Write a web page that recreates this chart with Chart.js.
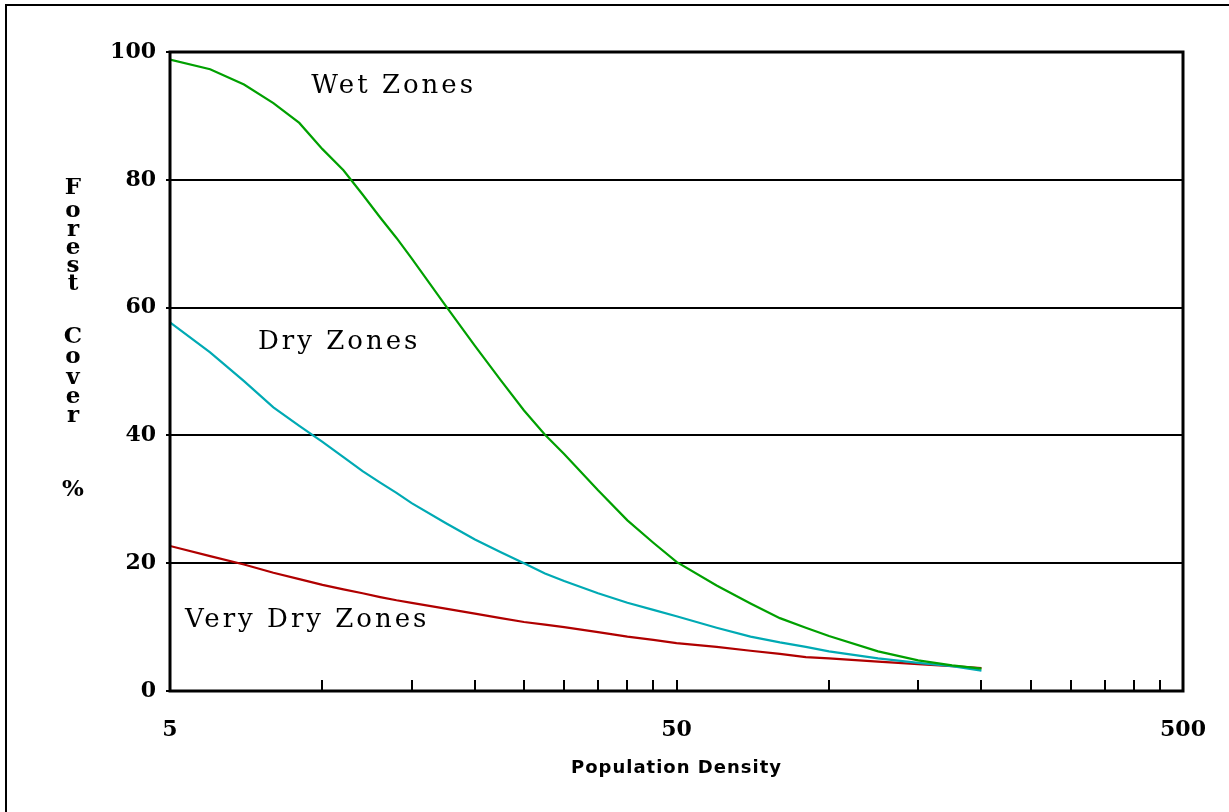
<!DOCTYPE html>
<html>
<head>
<meta charset="utf-8">
<script src="https://cdn.jsdelivr.net/npm/chart.js@4/dist/chart.umd.min.js"></script>
<style>
html,body{margin:0;padding:0;background:#fff;}
canvas{display:block;}
</style>
</head>
<body>
<canvas id="c" width="1229" height="812"></canvas>
<script>
// ---- data ----
const density = [5, 6, 7, 8, 9, 10, 11, 12, 13, 14, 15, 17.5, 20, 22.5, 25, 27.5, 30, 35, 40, 45, 50, 60, 70, 80, 90, 100, 125, 150, 175, 200];
const wetZones = [98.8, 97.3, 94.9, 92.0, 88.9, 84.8, 81.5, 77.7, 74.1, 70.9, 67.7, 60.3, 54.0, 48.6, 43.9, 40.1, 37.1, 31.4, 26.7, 23.2, 20.2, 16.5, 13.7, 11.4, 9.9, 8.6, 6.2, 4.8, 4.0, 3.5];
const dryZones = [57.7, 53.0, 48.5, 44.4, 41.5, 39.0, 36.6, 34.4, 32.6, 31.0, 29.4, 26.3, 23.7, 21.7, 20.0, 18.4, 17.2, 15.3, 13.8, 12.7, 11.7, 9.9, 8.5, 7.6, 6.9, 6.2, 5.1, 4.4, 3.9, 3.2];
const veryDryZones = [22.7, 21.1, 19.8, 18.5, 17.5, 16.6, 15.9, 15.3, 14.7, 14.2, 13.8, 12.9, 12.1, 11.4, 10.8, 10.4, 10.0, 9.2, 8.5, 8.0, 7.5, 6.9, 6.3, 5.8, 5.3, 5.1, 4.6, 4.2, 3.9, 3.6];
const seriesNames = ["Wet Zones", "Dry Zones", "Very Dry Zones"];
const xTickValues = [5, 10, 15, 20, 25, 30, 35, 40, 45, 50, 100, 150, 200, 250, 300, 350, 400, 450, 500];
const xTickLabels = [5, 50, 500];
const yTickValues = [0, 20, 40, 60, 80, 100];
const xTitle = "Population Density";
const labelX = [9.5, 7.46, 5.35];
const labelY = [94.7, 54.5, 11.1];
const yTitle = ["F","o","r","e","s","t","","C","o","v","e","r","","%"];

const colors = ["#00a000", "#00aab4", "#b00000"];
const toPts = arr => density.map((d, i) => ({x: d, y: arr[i]}));

const framePlugin = {
  id: 'frame',
  beforeDraw(chart) {
    const ctx = chart.ctx;
    ctx.save();
    ctx.fillStyle = '#fff';
    ctx.fillRect(0, 0, chart.width, chart.height);
    ctx.strokeStyle = '#000';
    ctx.lineWidth = 2;
    ctx.beginPath();
    ctx.moveTo(6, chart.height + 2);
    ctx.lineTo(6, 5);
    ctx.lineTo(chart.width + 2, 5);
    ctx.stroke();
    ctx.restore();
  },
  afterDatasetsDraw(chart) {
    const ctx = chart.ctx;
    const a = chart.chartArea;
    const xs = chart.scales.x;
    const ys = chart.scales.y;
    ctx.save();
    ctx.strokeStyle = '#000';
    ctx.lineWidth = 3;
    ctx.strokeRect(a.left, a.top, a.right - a.left, a.bottom - a.top);
    ctx.lineWidth = 2;
    ctx.beginPath();
    xTickValues.forEach(v => {
      if (v === 5 || v === 500) return;
      const px = Math.round(xs.getPixelForValue(v));
      ctx.moveTo(px, a.bottom);
      ctx.lineTo(px, a.bottom - 11);
    });
    yTickValues.forEach(v => {
      const py = Math.round(ys.getPixelForValue(v));
      ctx.moveTo(a.left - 4, py);
      ctx.lineTo(a.left, py);
    });
    ctx.stroke();
    // series labels
    ctx.fillStyle = '#000';
    ctx.font = '26px "DejaVu Serif"';
    ctx.letterSpacing = '3px';
    ctx.textBaseline = 'middle';
    ctx.textAlign = 'left';
    seriesNames.forEach((n, i) => {
      ctx.fillText(n, xs.getPixelForValue(labelX[i]), ys.getPixelForValue(labelY[i]));
    });
    ctx.letterSpacing = '0px';
    // stacked y title
    ctx.font = 'bold 23px "DejaVu Serif"';
    ctx.textAlign = 'center';
    const yPos = [188, 211, 230, 248, 266, 284, 0, 337, 357, 378, 397, 416, 0, 490];
    yTitle.forEach((ch, i) => {
      if (ch) ctx.fillText(ch, 73, yPos[i]);
    });
    // x title
    ctx.font = 'bold 18px "DejaVu Sans"';
    ctx.letterSpacing = '1px';
    ctx.fillText(xTitle, (a.left + a.right) / 2, 768);
    ctx.restore();
  }
};

new Chart(document.getElementById('c'), {
  type: 'scatter',
  data: {
    datasets: [
      {label: seriesNames[0], data: toPts(wetZones), borderColor: colors[0]},
      {label: seriesNames[1], data: toPts(dryZones), borderColor: colors[1]},
      {label: seriesNames[2], data: toPts(veryDryZones), borderColor: colors[2]}
    ].map(d => Object.assign(d, {showLine: true, pointRadius: 0, borderWidth: 2.2, tension: 0, fill: false}))
  },
  options: {
    responsive: false,
    animation: false,
    devicePixelRatio: 1,
    layout: {padding: {left: 0, top: 52, right: 46, bottom: 0}},
    plugins: {legend: {display: false}, tooltip: {enabled: false}},
    scales: {
      x: {
        type: 'logarithmic',
        min: 5, max: 500,
        afterBuildTicks: s => { s.ticks = xTickValues.map(v => ({value: v})); },
        afterFit: s => { s.height = 121; s.paddingLeft = 0; s.paddingRight = 0; },
        grid: {display: false, drawTicks: false},
        border: {display: false},
        ticks: {
          autoSkip: false, maxRotation: 0, padding: 26,
          color: '#000',
          font: {family: '"DejaVu Serif"', size: 22, weight: 'bold'},
          callback: v => xTickLabels.includes(v) ? String(v) : ''
        }
      },
      y: {
        min: 0, max: 100,
        afterBuildTicks: s => { s.ticks = yTickValues.map(v => ({value: v})); },
        afterFit: s => { s.width = 170; s.paddingTop = 0; s.paddingBottom = 0; },
        grid: {color: '#000', lineWidth: 2, drawTicks: false},
        border: {display: false},
        ticks: {
          padding: 14, color: '#000',
          font: {family: '"DejaVu Serif"', size: 22, weight: 'bold'}
        }
      }
    }
  },
  plugins: [framePlugin]
});
</script>
</body>
</html>
